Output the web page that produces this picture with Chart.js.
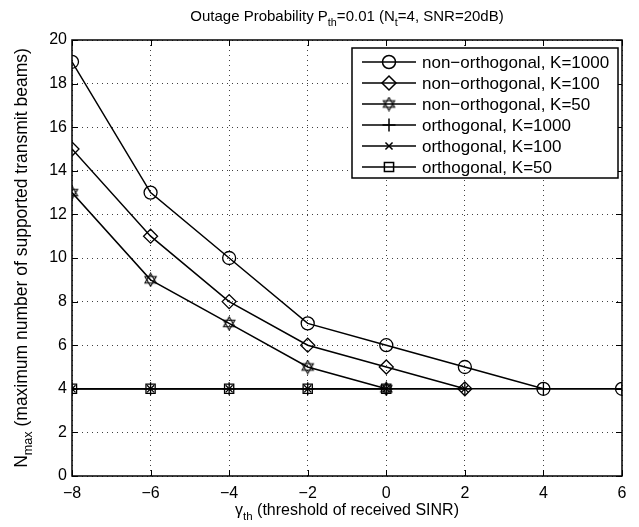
<!DOCTYPE html>
<html>
<head>
<meta charset="utf-8">
<script src="https://cdn.jsdelivr.net/npm/chart.js@4/dist/chart.umd.min.js"></script>
<style>
    html, body { margin: 0; padding: 0; background: #fff; }
</style>
</head>
<body>
<canvas id="ChartCanvas" width="639" height="527"></canvas>
<script>
// Data
const gammaValues   = [-8, -6, -4, -2, 0, 2, 4, 6];
const nonOrthK1000  = [19, 13, 10, 7, 6, 5, 4, 4];
const nonOrthK100   = [15, 11, 8, 6, 5, 4];
const nonOrthK50    = [13, 9, 7, 5, 4];
const orthK1000     = [4, 4, 4, 4, 4, 4, 4, 4];
const orthK100      = [4, 4, 4, 4, 4, 4];
const orthK50       = [4, 4, 4, 4, 4];
const seriesLabels  = ['non\u2212orthogonal, K=1000', 'non\u2212orthogonal, K=100', 'non\u2212orthogonal, K=50',
                       'orthogonal, K=1000', 'orthogonal, K=100', 'orthogonal, K=50'];
const xTickValues   = [-8, -6, -4, -2, 0, 2, 4, 6];
const yTickValues   = [0, 2, 4, 6, 8, 10, 12, 14, 16, 18, 20];

const FONT = "'Liberation Sans', Arial, Helvetica, sans-serif";

Initialize();

function MakeHexagram(size)
{
    // Star of David marker, drawn once to a small canvas and used as pointStyle
    const c = document.createElement('canvas');
    c.width = size; c.height = size;
    const g = c.getContext('2d');
    const cx = size / 2, cy = size / 2, r = size / 2 - 1;
    g.strokeStyle = '#000';
    g.lineWidth = 1.1;
    for (let k = 0; k < 2; k++)
    {
        g.beginPath();
        for (let i = 0; i < 3; i++)
        {
            const a = -Math.PI / 2 + k * Math.PI + i * 2 * Math.PI / 3;
            const px = cx + r * Math.cos(a), py = cy + r * Math.sin(a);
            if (i === 0) g.moveTo(px, py); else g.lineTo(px, py);
        }
        g.closePath();
        g.stroke();
    }
    return c;
}

function Pairs(values)
{
    return values.map((v, i) => ({x: gammaValues[i], y: v}));
}

function DrawRich(ctx, parts, x, y, size, align)
{
    // parts: [text, isSubscript] ; draws left to right with subscripts lowered
    const widths = parts.map(p =>
    {
        ctx.font = (p[1] ? size * 0.72 : size) + 'px ' + FONT;
        return ctx.measureText(p[0]).width;
    });
    const total = widths.reduce((a, b) => a + b, 0);
    let cx = align === 'center' ? x - total / 2 : x;
    ctx.textAlign = 'left';
    ctx.textBaseline = 'alphabetic';
    parts.forEach((p, i) =>
    {
        ctx.font = (p[1] ? size * 0.72 : size) + 'px ' + FONT;
        ctx.fillText(p[0], cx, p[1] ? y + size * 0.3 : y);
        cx += widths[i];
    });
}

function Initialize()
{
    const ctx = document.getElementById('ChartCanvas').getContext('2d');
    const hexagram = MakeHexagram(15);

    const styles =
    [
        {data: nonOrthK1000, pointStyle: 'circle',   radius: 6.5},
        {data: nonOrthK100,  pointStyle: 'rectRot',  radius: 7},
        {data: nonOrthK50,   pointStyle: hexagram,   radius: 7},
        {data: orthK1000,    pointStyle: 'cross',    radius: 6.5},
        {data: orthK100,     pointStyle: 'crossRot', radius: 5},
        {data: orthK50,      pointStyle: 'rect',     radius: 6.5}
    ];

    const frame =
    {
        id: 'matlabFrame',
        afterDraw(chart)
        {
            const c = chart.ctx;
            const a = chart.chartArea;
            const xs = chart.scales.x, ys = chart.scales.y;
            c.save();

            // axes box
            c.strokeStyle = '#000';
            c.lineWidth = 1.5;
            c.strokeRect(a.left, a.top, a.right - a.left, a.bottom - a.top);

            // inward tick marks on all four sides
            c.lineWidth = 1;
            const tl = 6;
            c.beginPath();
            xTickValues.forEach(v =>
            {
                const px = Math.round(xs.getPixelForValue(v)) + 0.5;
                c.moveTo(px, a.bottom); c.lineTo(px, a.bottom - tl);
                c.moveTo(px, a.top);    c.lineTo(px, a.top + tl);
            });
            yTickValues.forEach(v =>
            {
                const py = Math.round(ys.getPixelForValue(v)) + 0.5;
                c.moveTo(a.left, py);  c.lineTo(a.left + tl, py);
                c.moveTo(a.right, py); c.lineTo(a.right - tl, py);
            });
            c.stroke();

            // legend
            const lx = 352, ly = 48, lw = 266, lh = 130, row = 21;
            c.fillStyle = '#fff';
            c.fillRect(lx, ly, lw, lh);
            c.lineWidth = 1.5;
            c.strokeRect(lx, ly, lw, lh);
            styles.forEach((s, i) =>
            {
                const yy = ly + 14 + i * row;
                c.strokeStyle = '#000';
                c.lineWidth = 1.5;
                c.beginPath();
                c.moveTo(lx + 10, yy); c.lineTo(lx + 64, yy);
                c.stroke();
                c.fillStyle = 'rgba(0,0,0,0)';
                Chart.helpers.drawPoint(c, {pointStyle: s.pointStyle, radius: s.radius, rotation: 0, borderWidth: 1.3}, lx + 37, yy);
                c.fillStyle = '#000';
                c.font = '17px ' + FONT;
                c.textAlign = 'left';
                c.textBaseline = 'middle';
                c.fillText(seriesLabels[i], lx + 70, yy + 1);
            });

            // titles
            c.fillStyle = '#000';
            const mid = (a.left + a.right) / 2;
            DrawRich(c, [['Outage Probability P', 0], ['th', 1], ['=0.01 (N', 0], ['t', 1], ['=4, SNR=20dB)', 0]], mid, 21, 15, 'center');
            DrawRich(c, [['\u03b3', 0], ['th', 1], [' (threshold of received SINR)', 0]], mid, 515, 16, 'center');

            c.translate(27, (a.top + a.bottom) / 2);
            c.rotate(-Math.PI / 2);
            DrawRich(c, [['N', 0], ['max', 1], [' (maximum number of supported transmit beams)', 0]], 0, 0, 17.5, 'center');
            c.restore();
        }
    };

    const chart = new Chart(ctx,
    {
        type: 'line',
        data:
        {
            datasets: styles.map((s, i) =>
            ({
                label: seriesLabels[i],
                data: Pairs(s.data),
                borderColor: '#000',
                borderWidth: 1.5,
                pointStyle: s.pointStyle,
                pointRadius: s.radius,
                pointHoverRadius: s.radius,
                pointBorderColor: '#000',
                pointBackgroundColor: 'rgba(0,0,0,0)',
                pointBorderWidth: 1.3,
                tension: 0,
                fill: false
            }))
        },
        options:
        {
            responsive: false,
            animation: false,
            events: [],
            layout: { padding: { top: 40, right: 17, left: 0, bottom: 0 } },
            plugins:
            {
                legend: { display: false },
                tooltip: { enabled: false }
            },
            scales:
            {
                x:
                {
                    type: 'linear',
                    min: -8,
                    max: 6,
                    afterFit: s => { s.height = 51; },
                    afterBuildTicks: s => { s.ticks = xTickValues.map(v => ({value: v})); },
                    ticks:
                    {
                        color: '#000',
                        font: { family: FONT, size: 16 },
                        padding: 8,
                        maxRotation: 0,
                        callback: v => String(v).replace('-', '\u2212')
                    },
                    grid: { drawTicks: false, color: 'rgba(0,0,0,0.75)', lineWidth: 1 },
                    border: { display: false, dash: [1, 4] }
                },
                y:
                {
                    type: 'linear',
                    min: 0,
                    max: 20,
                    afterFit: s => { s.width = 72; },
                    afterBuildTicks: s => { s.ticks = yTickValues.map(v => ({value: v})); },
                    ticks:
                    {
                        color: '#000',
                        font: { family: FONT, size: 16 },
                        padding: 5,
                        callback: v => String(v)
                    },
                    grid: { drawTicks: false, color: 'rgba(0,0,0,0.75)', lineWidth: 1 },
                    border: { display: false, dash: [1, 4] }
                }
            }
        },
        plugins: [frame]
    });
}
</script>
</body>
</html>
